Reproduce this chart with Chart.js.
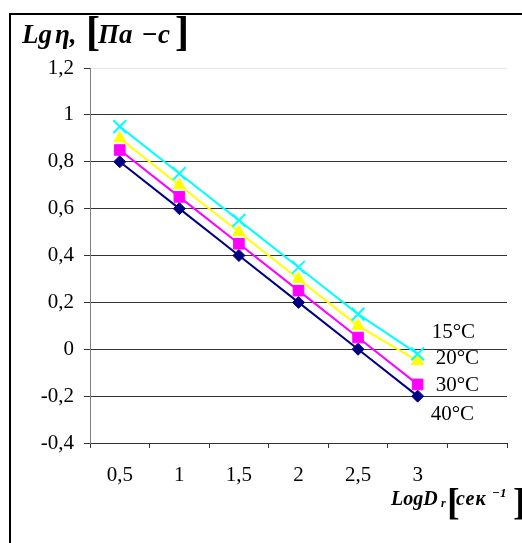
<!DOCTYPE html>
<html>
<head>
<meta charset="utf-8">
<script src="https://cdn.jsdelivr.net/npm/chart.js@4.4.1/dist/chart.umd.min.js"></script>
<style>
  html, body { margin: 0; padding: 0; background: #fff; }
  #wrap { position: relative; width: 522px; height: 543px; overflow: hidden; }
  #frame { position: absolute; left: 9px; top: 13px; width: 520px; height: 540px;
           border-left: 2px solid #000; border-top: 2px solid #000; }
  canvas { position: absolute; left: 0; top: 0; }
  .t { position: absolute; font-family: "Liberation Serif", "Times New Roman", serif;
       font-weight: bold; font-style: italic; color: #000; white-space: nowrap; }
  .b { font-style: normal; }
</style>
</head>
<body>
<div id="wrap">
  <div id="frame"></div>
  <canvas id="chart" width="522" height="543"></canvas>

  <!-- y axis title: Lg η, [Па − с] -->
  <div class="t" style="left:22px; top:21px; font-size:27px; line-height:27px;">Lg</div>
  <div class="t" style="left:55px; top:21px; font-size:27px; line-height:27px;">η,</div>
  <div class="t b" style="left:86px; top:10px; font-size:42px; line-height:42px;">[</div>
  <div class="t" style="left:98px; top:21px; font-size:27px; line-height:27px;">Па</div>
  <div class="t b" style="left:142px; top:21px; font-size:27px; line-height:27px;">−</div>
  <div class="t" style="left:158px; top:21px; font-size:27px; line-height:27px;">с</div>
  <div class="t b" style="left:175px; top:10px; font-size:42px; line-height:42px;">]</div>

  <!-- x axis title: LogDr [сек^-1] -->
  <div class="t" style="left:391px; top:488px; font-size:20px; line-height:20px;">LogD</div>
  <div class="t" style="left:441px; top:497px; font-size:12px; line-height:12px;">r</div>
  <div class="t b" style="left:447px; top:483px; font-size:38px; line-height:38px;">[</div>
  <div class="t" style="left:456px; top:488px; font-size:20px; line-height:20px; letter-spacing:1px;">сек</div>
  <div class="t" style="left:492px; top:486px; font-size:13px; line-height:13px;">−1</div>
  <div class="t b" style="left:513px; top:483px; font-size:38px; line-height:38px;">]</div>
</div>
<script>
  // categories on the x axis (last slot is empty, as in the original)
  const shearLabels = ["0,5", "1", "1,5", "2", "2,5", "3", ""];

  // lg(viscosity) per temperature
  const t15 = [0.95, 0.75, 0.55, 0.35, 0.15, -0.02];
  const t20 = [0.90, 0.70, 0.50, 0.30, 0.10, -0.05];
  const t30 = [0.85, 0.65, 0.45, 0.25, 0.05, -0.15];
  const t40 = [0.80, 0.60, 0.40, 0.20, 0.00, -0.20];

  const seriesNames = ["15°C", "20°C", "30°C", "40°C"];
  // where the temperature captions sit, in axis values
  const captionValues = [0.07, -0.04, -0.155, -0.28];
  const captionShift = [14, 18, 18, 13];

  const FONT = "'Liberation Serif', 'Times New Roman', serif";

  function comma(v) {
    const r = Math.round(v * 10) / 10;
    return String(r).replace(".", ",");
  }

  function series(name, data, color, style, radius) {
    return {
      label: name,
      data: data,
      borderColor: color,
      backgroundColor: color,
      borderWidth: 2,
      pointStyle: style,
      pointRadius: radius,
      pointBorderColor: color,
      pointBackgroundColor: color,
      pointBorderWidth: style === "crossRot" ? 2 : 1,
      tension: 0
    };
  }

  const captions = {
    id: "captions",
    afterDatasetsDraw(chart) {
      const ctx = chart.ctx;
      const xs = chart.scales.x;
      const ys = chart.scales.y;
      const xLast = xs.getPixelForValue(5);
      ctx.save();
      ctx.fillStyle = "#000";
      ctx.font = "21px " + FONT;
      ctx.textAlign = "left";
      ctx.textBaseline = "middle";
      seriesNames.forEach((n, i) => {
        ctx.fillText(n, xLast + captionShift[i], ys.getPixelForValue(captionValues[i]));
      });
      ctx.restore();
    }
  };

  new Chart(document.getElementById("chart"), {
    type: "line",
    data: {
      labels: shearLabels,
      datasets: [
        series("15°C", t15, "#00FFFF", "crossRot", 9),
        series("20°C", t20, "#FFFF00", "triangle", 7),
        series("30°C", t30, "#FF00FF", "rect", 7.5),
        series("40°C", t40, "#000080", "rectRot", 6)
      ]
    },
    options: {
      responsive: false,
      animation: false,
      layout: { padding: { left: 10, right: 15, top: 68, bottom: 0 } },
      plugins: { legend: { display: false }, tooltip: { enabled: false } },
      scales: {
        x: {
          type: "category",
          offset: true,
          afterFit: s => { s.height = 100; },
          grid: { drawOnChartArea: false, drawTicks: true, tickLength: 5, color: "#333", offset: true },
          border: { color: "#333", width: 1 },
          ticks: { color: "#000", font: { family: FONT, size: 21 }, padding: 15, maxRotation: 0, autoSkip: false }
        },
        y: {
          min: -0.4,
          max: 1.2,
          afterFit: s => { s.width = 80; },
          grid: {
            color: c => (c.tick && Math.abs(c.tick.value - 1.2) < 1e-6) ? "#e6e6e6" : "#333",
            tickColor: "#333",
            tickLength: 6
          },
          border: { color: "#808080", width: 1 },
          ticks: { stepSize: 0.2, color: "#000", font: { family: FONT, size: 21 }, padding: 10, callback: v => comma(v) }
        }
      }
    },
    plugins: [captions]
  });
</script>
</body>
</html>
